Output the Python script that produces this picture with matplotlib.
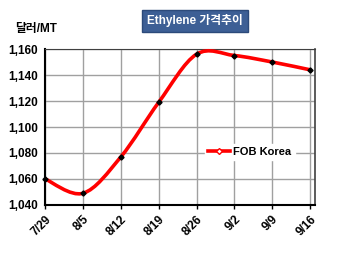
import matplotlib
matplotlib.use("Agg")
import matplotlib.pyplot as plt
from matplotlib.path import Path
from matplotlib.patches import PathPatch
from matplotlib.lines import Line2D

dates = ["7/29", "8/5", "8/12", "8/19", "8/26", "9/2", "9/9", "9/16"]
prices = [1060, 1049, 1077, 1119, 1156, 1155, 1150, 1144]
yticks = [1040, 1060, 1080, 1100, 1120, 1140, 1160]

plt.rcParams['font.family'] = ['Liberation Sans', 'Noto Sans CJK KR', 'DejaVu Sans']

fig = plt.figure(figsize=(3.5, 2.54), dpi=100)
ax = fig.add_axes([0.129, 0.193, 0.771, 0.614])

x = list(range(len(dates)))

# smoothed line (Catmull-Rom drawn as bezier path, like excel "smooth line")
pts = list(zip(x, prices))
ext = [pts[0]] + pts + [pts[-1]]
verts = [pts[0]]
codes = [Path.MOVETO]
for i in range(1, len(ext) - 2):
    p0, p1, p2, p3 = ext[i - 1], ext[i], ext[i + 1], ext[i + 2]
    c1 = (p1[0] + (p2[0] - p0[0]) / 6, p1[1] + (p2[1] - p0[1]) / 6)
    c2 = (p2[0] - (p3[0] - p1[0]) / 6, p2[1] - (p3[1] - p1[1]) / 6)
    verts += [c1, c2, p2]
    codes += [Path.CURVE4] * 3
ax.add_patch(PathPatch(Path(verts, codes), facecolor="none", edgecolor="#ff0000",
                       lw=2.6, zorder=3, clip_on=False))
ax.plot(x, prices, linestyle="none", marker="D", ms=2.6, color="black", zorder=4, clip_on=False)

ax.set_xlim(0, 7.13)
ax.set_ylim(1040, 1160)
ax.set_yticks(yticks)
ax.set_yticklabels([f"{v:,}" for v in yticks], fontsize=8.5, fontweight="bold")
ax.set_xticks(x)
ax.set_xticklabels(dates, rotation=45, ha="right", rotation_mode="anchor",
                   fontsize=8.5, fontweight="bold")
ax.tick_params(axis="y", length=0, pad=5)
ax.tick_params(axis="x", length=3, width=1, pad=3)
ax.grid(True, color="#a0a0a0", lw=1)
ax.set_axisbelow(True)

ax.spines["left"].set_linewidth(1.5)
ax.spines["bottom"].set_linewidth(1.5)
ax.spines["top"].set_color("#404040")
ax.spines["right"].set_color("#404040")
ax.spines["right"].set_linewidth(1.2)

handle = Line2D([], [], color="#ff0000", lw=2.6, marker="D", ms=3,
                markerfacecolor="white", markeredgecolor="#ff0000")
leg = ax.legend([handle], ["FOB Korea"], loc="center left", bbox_to_anchor=(0.57, 0.34),
                frameon=True, fancybox=False, framealpha=1, edgecolor="white",
                prop={"size": 8, "weight": "bold"}, handlelength=2.0,
                handletextpad=0.3, borderpad=0.3)

fig.text(0.043, 0.885, "달러/MT", fontsize=8.5, fontweight="bold", va="center")
fig.text(0.557, 0.918, "Ethylene 가격추이", fontsize=8.5, fontweight="bold", color="white",
         ha="center", va="center",
         bbox=dict(boxstyle="square,pad=0.4", facecolor="#3d5f95", edgecolor="#2c4a7a"))

fig.savefig("out.png", dpi=100)
